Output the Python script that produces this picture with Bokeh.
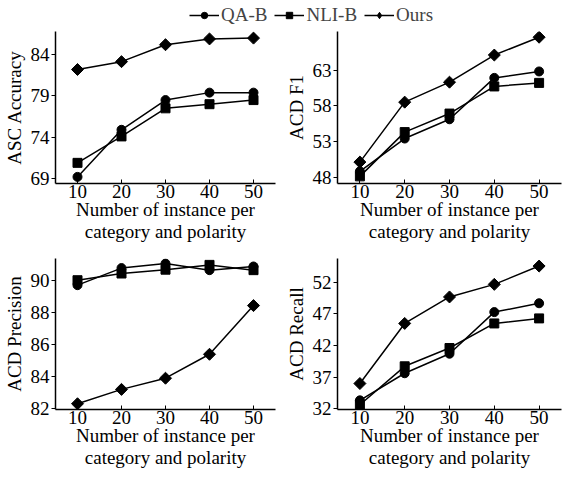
import math
from bokeh.plotting import figure
from bokeh.layouts import column, row
from bokeh.models import Range1d, Legend, LegendItem, FixedTicker, LinearAxis
from bokeh.embed import file_html
from bokeh.resources import INLINE

x = [10, 20, 30, 40, 50]

asc_qa = [69.2, 74.9, 78.5, 79.4, 79.4]
asc_nli = [70.9, 74.1, 77.5, 78.0, 78.5]
asc_ours = [82.2, 83.15, 85.2, 85.9, 86.0]

f1_qa = [48.8, 53.4, 56.1, 61.9, 62.8]
f1_nli = [48.1, 54.3, 56.9, 60.7, 61.2]
f1_ours = [50.1, 58.5, 61.3, 65.1, 67.6]

prec_qa = [89.73, 90.8, 91.08, 90.67, 90.9]
prec_nli = [90.04, 90.46, 90.7, 91.0, 90.67]
prec_ours = [82.3, 83.2, 83.9, 85.4, 88.45]

rec_qa = [33.3, 37.6, 40.7, 47.3, 48.7]
rec_nli = [32.6, 38.7, 41.6, 45.5, 46.3]
rec_ours = [35.97, 45.5, 49.7, 51.7, 54.6]

series_names = ["QA-B", "NLI-B", "Ours"]
markers = ["circle", "square", "square"]
angles = [0, 0, math.pi / 4]
msizes = [9, 9, 8.5]

FONT = "Liberation Serif"
FS = "19px"
XLABEL1 = "Number of instance per"
XLABEL2 = "category and polarity"


def style_axis(ax):
    ax.axis_line_color = "black"
    ax.axis_line_width = 1.5
    ax.major_tick_line_color = "black"
    ax.minor_tick_line_color = None
    ax.major_label_text_font = FONT
    ax.major_label_text_font_size = FS
    ax.major_label_text_color = "black"
    ax.axis_label_text_font = FONT
    ax.axis_label_text_font_size = FS
    ax.axis_label_text_font_style = "normal"
    ax.axis_label_text_color = "black"


def panel(ylabel, ys, yrange, yticks, left, right, top, w, h):
    p = figure(width=w, height=h, output_backend="svg", toolbar_location=None,
               x_range=Range1d(5, 55), y_range=Range1d(*yrange),
               min_border_left=left, min_border_right=right,
               min_border_top=top, min_border_bottom=0)
    p.outline_line_color = None
    p.grid.visible = False
    for vals, m, s, a in zip(ys, markers, msizes, angles):
        p.line(x, vals, line_color="black", line_width=1.5)
        p.scatter(x, vals, marker=m, size=s, angle=a, fill_color="black", line_color="black")
    p.xaxis.ticker = FixedTicker(ticks=x)
    p.yaxis.ticker = FixedTicker(ticks=yticks)
    p.xaxis.axis_label = XLABEL1
    p.yaxis.axis_label = ylabel
    style_axis(p.xaxis[0])
    style_axis(p.yaxis[0])
    p.xaxis.major_tick_in = 4
    p.xaxis.major_tick_out = 0
    p.xaxis.major_label_standoff = 1
    p.xaxis.axis_label_standoff = -2
    p.yaxis.major_tick_in = 0
    p.yaxis.major_tick_out = 4
    p.yaxis.major_label_standoff = 2
    p.yaxis.axis_label_standoff = 3
    # second line of the x label
    ax2 = LinearAxis(ticker=FixedTicker(ticks=[]), axis_label=XLABEL2)
    style_axis(ax2)
    ax2.axis_line_color = None
    ax2.major_tick_in = 0
    ax2.major_tick_out = 0
    ax2.major_label_standoff = 0
    ax2.axis_label_standoff = -2
    p.add_layout(ax2, "below")
    return p


W1, W2 = 282, 281
LH = 24
H1 = 220
H3 = 470 - LH - H1

p1 = panel("ASC Accuracy", [asc_qa, asc_nli, asc_ours], (68.4, 86.8), [69, 74, 79, 84],
           49, 7, 7, W1, H1)
p2 = panel("ACD F1", [f1_qa, f1_nli, f1_ours], (47.1, 68.4), [48, 53, 58, 63],
           55, 2, 7, W2, H1)
p3 = panel("ACD Precision", [prec_qa, prec_nli, prec_ours], (81.94, 91.4), [82, 84, 86, 88, 90],
           49, 7, 14, W1, H3)
p4 = panel("ACD Recall", [rec_qa, rec_nli, rec_ours], (31.85, 55.8), [32, 37, 42, 47, 52],
           55, 2, 14, W2, H3)

# legend strip
lg = figure(width=W1 + W2, height=LH, output_backend="svg", toolbar_location=None,
            x_range=Range1d(0, 1), y_range=Range1d(0, 1), min_border=0)
lg.axis.visible = False
lg.grid.visible = False
lg.outline_line_color = None
leg_markers = ["circle", "square", "diamond"]
leg_sizes = [9, 9, 13]
items = []
for name, m, s in zip(series_names, leg_markers, leg_sizes):
    l = lg.line([-10, -9], [-10, -9], line_color="black", line_width=1.5)
    sc = lg.scatter([-10], [-10], marker=m, size=s, fill_color="black", line_color="black")
    items.append(LegendItem(label=name, renderers=[l, sc]))
leg = Legend(items=items, orientation="horizontal", location=(189, -2),
             glyph_width=30, glyph_height=16, label_text_font=FONT,
             label_text_font_size=FS, label_standoff=2, spacing=7,
             border_line_color=None, background_fill_alpha=0,
             padding=0, margin=0, label_height=16, label_width=10)
lg.add_layout(leg, "center")

layout = column(lg, row(p1, p2), row(p3, p4))
open("out.html", "w").write(file_html(layout, INLINE))
